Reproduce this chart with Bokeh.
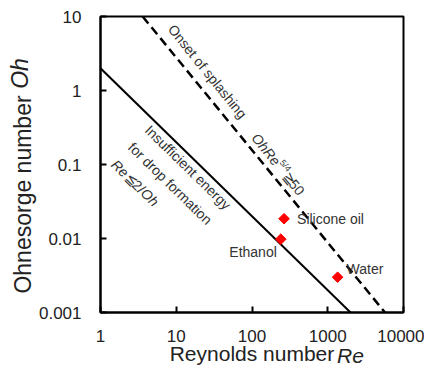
import math
from bokeh.plotting import figure
from bokeh.models import FixedTicker, CustomJSTickFormatter, LinearAxis
from bokeh.core.properties import value
from bokeh.embed import file_html
from bokeh.resources import INLINE

# ---------------- data ----------------
x_ticks = [1, 10, 100, 1000, 10000]
x_tick_labels = ["1", "10", "100", "1000", "10000"]
y_ticks = [0.001, 0.01, 0.1, 1, 10]
y_tick_labels = ["0.001", "0.01", "0.1", "1", "10"]

x_title = ["Reynolds number", "Re"]
y_title = ["Ohnesorge number", "Oh"]

fluids = ["Silicone oil", "Ethanol", "Water"]
fluid_re = [265, 240, 1350]
fluid_oh = [0.0185, 0.0098, 0.003]

# Re <= 2/Oh boundary (end points)
drop_limit_re = [1, 2000]
drop_limit_oh = [2, 0.001]
# Oh Re^(5/4) >= 50 splashing boundary (end points)
splash_re = [3.6, 5700]
splash_oh = [10, 0.001]

# ---------------- geometry ----------------
BORDER_L, BORDER_R, BORDER_T, BORDER_B = 100, 21, 16, 50
FRAME_W, FRAME_H = 303, 296
FX0 = BORDER_L   # frame left in page px
FY0 = BORDER_T   # frame top in page px
PXX = FRAME_W / 4.0
PXY = FRAME_H / 4.0

FONT = "Liberation Sans"
TXT = "#333333"
AXT = "#222222"


def page_to_data(px, py):
    return 10 ** ((px - FX0) / PXX), 10 ** (1 - (py - FY0) / PXY)


def data_shift(re, oh, dx, dy):
    # dx, dy in screen px (dy positive = down)
    return re * 10 ** (dx / PXX), oh * 10 ** (-dy / PXY)


p = figure(frame_width=FRAME_W, frame_height=FRAME_H,
           x_axis_type="log", y_axis_type="log",
           x_range=(1, 10000), y_range=(0.001, 10),
           output_backend="svg", toolbar_location=None,
           min_border_left=BORDER_L, min_border_right=BORDER_R,
           min_border_top=BORDER_T, min_border_bottom=BORDER_B,
           background_fill_color="white", border_fill_color="white")

p.grid.visible = False
p.outline_line_color = "black"
p.outline_line_width = 2
p.outline_line_alpha = 1

p.xaxis.ticker = FixedTicker(ticks=x_ticks)
p.yaxis.ticker = FixedTicker(ticks=y_ticks)
fmt_code = """
let best = 0;
for (let i = 0; i < tvals.length; i++) {
  if (Math.abs(Math.log10(tvals[i]) - Math.log10(tick)) <
      Math.abs(Math.log10(tvals[best]) - Math.log10(tick))) best = i;
}
return tlabels[best];
"""
p.xaxis.formatter = CustomJSTickFormatter(args=dict(tvals=x_ticks, tlabels=x_tick_labels), code=fmt_code)
p.yaxis.formatter = CustomJSTickFormatter(args=dict(tvals=y_ticks, tlabels=y_tick_labels), code=fmt_code)

for ax in (p.xaxis[0], p.yaxis[0]):
    ax.axis_line_color = "black"
    ax.axis_line_width = 2
    ax.major_tick_in = 6
    ax.major_tick_out = 0
    ax.major_tick_line_width = 2
    ax.major_tick_line_color = "black"
    ax.minor_tick_line_color = None
    ax.major_label_text_font = FONT
    ax.major_label_text_font_size = "17px"
    ax.major_label_text_color = AXT
p.xaxis.major_label_standoff = 17
p.yaxis.major_label_standoff = 19

# x axis title: "Reynolds number" as the main axis label (centred on the frame)
p.xaxis.axis_label = x_title[0]
p.xaxis.axis_label_text_font = FONT
p.xaxis.axis_label_text_font_size = "21px"
p.xaxis.axis_label_text_font_style = "normal"
p.xaxis.axis_label_text_color = AXT
p.xaxis.axis_label_standoff = -3


def title_axis(text, pos, style, size, standoff, orientation="horizontal"):
    """A bare axis whose single tick label carries one piece of an axis title."""
    ax = LinearAxis(ticker=FixedTicker(ticks=[pos]), axis_line_color=None,
                    major_tick_line_color=None, minor_tick_line_color=None,
                    major_tick_in=0, major_tick_out=0,
                    formatter=CustomJSTickFormatter(args=dict(lbl=text), code="return lbl;"),
                    major_label_standoff=standoff, major_label_text_font=FONT,
                    major_label_text_font_size=size, major_label_text_font_style=style,
                    major_label_text_color=AXT, major_label_orientation=orientation)
    return ax


# italic "Re", raised into the row of "Reynolds number"
p.add_layout(title_axis(x_title[1], page_to_data(350, 0)[0], "italic", "21px", -24), "below")

# "Ohnesorge number" and italic "Oh"
p.add_layout(title_axis(y_title[0], page_to_data(0, 194)[1], "normal", "23px", 0,
                        "vertical"), "left")
p.add_layout(title_axis(y_title[1], page_to_data(0, 73)[1], "italic", "23px", -26,
                        "vertical"), "left")

# boundary lines
p.line(drop_limit_re, drop_limit_oh, line_color="black", line_width=2)
p.line(splash_re, splash_oh, line_color="black", line_width=2.5, line_dash="9 5")

# fluid markers
p.scatter(fluid_re, fluid_oh, marker="square", angle=math.pi / 4, size=7.5,
          fill_color="#ff0000", line_color="#ff0000")

# fluid labels (offsets in screen px from the marker)
label_offsets = [(13, 0, "left"), (-4, 13, "right"), (9, -8, "left")]
for name, re, oh, (dx, dy, al) in zip(fluids, fluid_re, fluid_oh, label_offsets):
    x, y = data_shift(re, oh, dx, dy)
    p.text(x=[x], y=[y], text=[name], text_font=value(FONT), text_font_size=value("14px"),
           text_color=TXT, text_align=al, text_baseline="middle")


def rotated_pieces(start_px, start_py, angle_deg, pieces):
    a = math.radians(angle_deg)
    dx, dy = math.cos(a), math.sin(a)
    ux, uy = math.sin(a), -math.cos(a)
    s = 0.0
    for text, w, fsize, style, rise in pieces:
        px = start_px + s * dx + rise * ux
        py = start_py + s * dy + rise * uy
        x, y = page_to_data(px, py)
        p.text(x=[x], y=[y], text=[text], angle=-a, text_font=value(FONT),
               text_font_size=value(fsize), text_font_style=style, text_color=TXT,
               text_align="left", text_baseline="middle")
        s += w


# "Onset of splashing"
x, y = page_to_data(207, 71)
p.text(x=[x], y=[y], text=["Onset of splashing"], angle=-math.radians(51),
       text_font=value(FONT), text_font_size=value("14px"), text_color=TXT,
       text_align="center", text_baseline="middle")

# "OhRe^5/4 >= 50"
A2 = 51
a2 = math.radians(A2)
sx, sy = 277 - 36.5 * math.cos(a2), 163 - 36.5 * math.sin(a2)
rotated_pieces(sx, sy, A2, [("OhRe", 37, "14px", "italic", 0),
                            ("5/4", 13, "9px", "normal", 5),
                            ("\u2267", 9.5, "14px", "normal", 0),
                            ("50", 16, "14px", "normal", 0)])

# "Insufficient energy / for drop formation / Re<=2/Oh"
A1 = 44.3
a1 = math.radians(A1)
d = (math.cos(a1), math.sin(a1))
pp = (-math.sin(a1), math.cos(a1))
along0 = 194
for perp, pieces in [(-11.5, [("Insufficient energy", 0, "14px", "normal", 0)]),
                     (12.5, [("for drop formation", 0, "14px", "normal", 0)]),
                     (36.5, [("Re", 19.5, "14px", "italic", 0),
                             ("\u2266", 9.5, "14px", "normal", 0),
                             ("2/", 12, "14px", "normal", 0),
                             ("Oh", 19, "14px", "italic", 0)])]:
    px = along0 * d[0] + perp * pp[0]
    py = along0 * d[1] + perp * pp[1]
    rotated_pieces(px, py, A1, pieces)

open("out.html", "w").write(file_html(p, INLINE))
